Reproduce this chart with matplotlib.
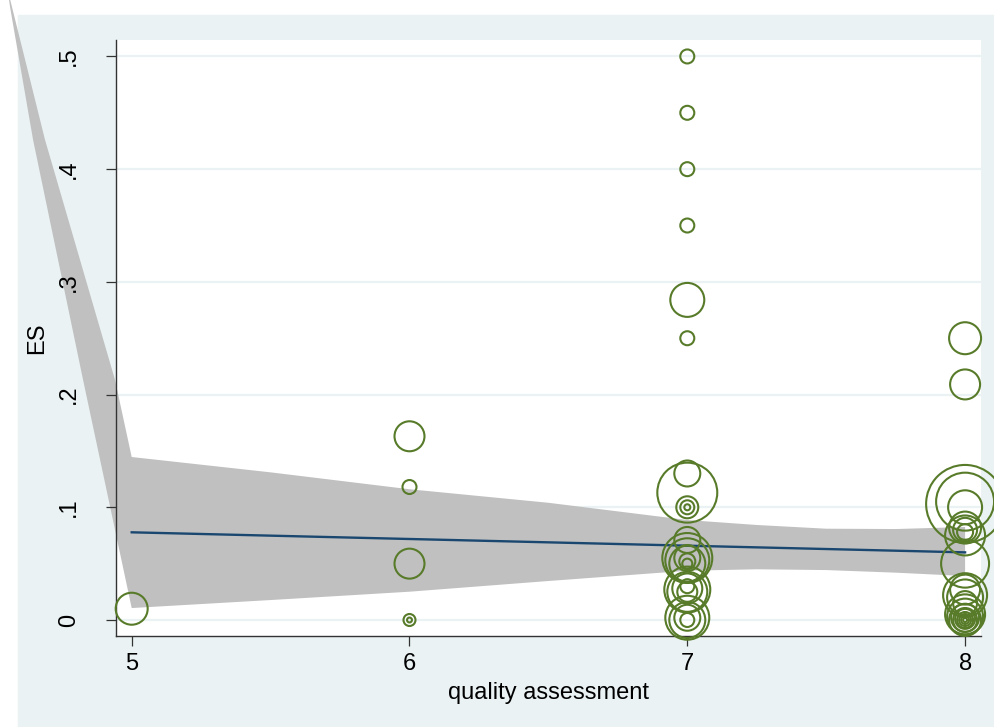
"""
Meta-regression bubble plot: ES vs quality assessment
"""

import numpy as np
import matplotlib
matplotlib.use('Agg')
import matplotlib.pyplot as plt
import matplotlib.patches as mpatches

plt.rcParams['font.family'] = ['Liberation Sans', 'DejaVu Sans']

# Study effect sizes, quality score and study weight (bubble area)
study_quality = [5,
                 6, 6, 6, 6, 6,
                 7, 7, 7, 7, 7, 7,
                 7, 7, 7, 7, 7,
                 7, 7, 7, 7, 7, 7, 7,
                 7, 7, 7, 7, 7,
                 7, 7, 7, 7,
                 8, 8, 8, 8, 8,
                 8, 8, 8, 8,
                 8,
                 8, 8, 8, 8,
                 8, 8, 8, 8, 8, 8, 8, 8, 8, 8]
study_es = [0.010,
            0.163, 0.118, 0.050, 0.000, 0.000,
            0.500, 0.450, 0.400, 0.350, 0.284, 0.250,
            0.130, 0.113, 0.100, 0.100, 0.100,
            0.071, 0.055, 0.053, 0.050, 0.055, 0.052, 0.050,
            0.027, 0.025, 0.028, 0.025, 0.030,
            0.002, 0.000, 0.002, 0.000,
            0.250, 0.209, 0.103, 0.105, 0.100,
            0.082, 0.075, 0.080, 0.078,
            0.050,
            0.022, 0.020, 0.027, 0.015,
            0.005, 0.003, 0.000, 0.002, 0.000, 0.001, 0.000, 0.000, 0.000, 0.000]
study_weight = [256,
                225, 49, 225, 36, 6,
                49, 49, 49, 49, 289, 49,
                169, 900, 121, 49, 9,
                169, 625, 484, 324, 169, 64, 25,
                529, 400, 225, 100, 49,
                484, 324, 169, 49,
                256, 225, 1521, 841, 289,
                256, 400, 144, 64,
                576,
                484, 324, 225, 144,
                400, 324, 256, 196, 144, 100, 64, 36, 16, 4]

# Fitted meta-regression line
fit_x = [5, 8]
fit_y = [0.0778, 0.060]

# Confidence band edges (as drawn, including the part left of the axis)
band_upper_x = [4.553, 4.569, 4.688, 4.94, 5.0, 5.5, 6.0, 6.5, 7.0, 7.25, 7.5, 7.75, 8.0]
band_upper = [0.560, 0.544, 0.426, 0.213, 0.1446, 0.131, 0.116, 0.104, 0.0887, 0.0843, 0.081, 0.0807, 0.0825]
band_lower_x = [4.553, 4.562, 4.645, 4.825, 5.0, 5.5, 6.0, 6.5, 7.0, 7.25, 7.5, 7.75, 8.0]
band_lower = [0.560, 0.544, 0.426, 0.213, 0.0106, 0.0177, 0.0251, 0.0346, 0.0437, 0.045, 0.0443, 0.042, 0.039]

x_ticks = [5, 6, 7, 8]
y_ticks = [0, 0.1, 0.2, 0.3, 0.4, 0.5]
y_tick_labels = ['0', '.1', '.2', '.3', '.4', '.5']

# Stata s2color-ish colours
bg_color = '#EAF2F3'
band_color = '#C0C0C0'
line_color = '#1A476F'
bubble_color = '#587B2A'
axis_color = '#333333'

fig = plt.figure(figsize=(9.95, 7.27), dpi=100, facecolor='white')

# Outer graph region
fig.patches.append(mpatches.Rectangle((18 / 995, 0), 1 - 18 / 995, (727 - 15) / 727,
                                      transform=fig.transFigure, color=bg_color, zorder=-10))

ax = fig.add_axes([116 / 995, (727 - 636) / 727, 864.7 / 995, 596 / 727])
ax.set_facecolor('white')

# Horizontal grid lines (kept under the band)
for yt in y_ticks:
    ax.axhline(yt, color=bg_color, lw=1.6, zorder=0.5)

# Confidence band
poly_x = np.concatenate([band_upper_x, band_lower_x[::-1]])
poly_y = np.concatenate([band_upper, band_lower[::-1]])
ax.fill(poly_x, poly_y, color=band_color, lw=0, zorder=1, clip_on=False)

# Fitted line
ax.plot(fit_x, fit_y, color=line_color, lw=1.7, zorder=2)

# Bubbles, area proportional to weight
ax.scatter(study_quality, study_es, s=np.array(study_weight) * 2.07,
           facecolors='none', edgecolors=bubble_color, linewidths=1.5,
           zorder=4, clip_on=False)

ax.set_xlim(4.9435, 8.0562)
ax.set_ylim(-0.0142, 0.5146)

ax.set_xticks(x_ticks)
ax.set_yticks(y_ticks)
ax.set_yticklabels(y_tick_labels, rotation=90, va='center')

for side in ['top', 'right']:
    ax.spines[side].set_visible(False)
for side in ['left', 'bottom']:
    ax.spines[side].set_color(axis_color)
    ax.spines[side].set_linewidth(1.0)

ax.tick_params(axis='both', direction='out', length=7, width=0.9,
               color=axis_color, labelsize=17)
ax.tick_params(axis='x', pad=5)
ax.tick_params(axis='y', pad=19)

ax.set_xlabel('quality assessment', fontsize=17, labelpad=5)
ax.set_ylabel('ES', fontsize=17, labelpad=7)

fig.savefig('out.png', dpi=100)
